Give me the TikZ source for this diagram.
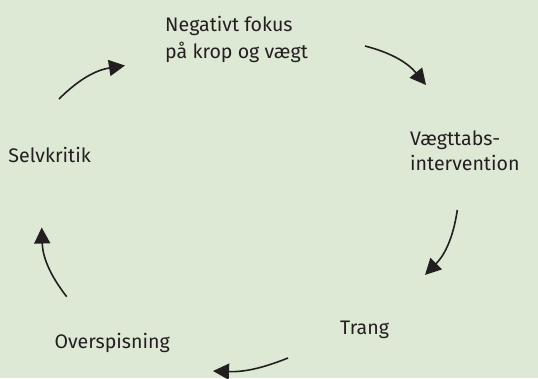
\documentclass[tikz,border=0pt]{standalone}
\usepackage{fontspec}
\setmainfont{Fira Sans}
\usetikzlibrary{arrows.meta}
\definecolor{bgcol}{RGB}{221,232,213}
\definecolor{ink}{RGB}{35,31,32}
\tikzset{
  lbl/.style={inner sep=0pt, anchor=base west, text=ink, font=\fontsize{19.6}{26.7}\selectfont},
  cyc/.style={draw=ink, line width=1.6pt, -{Triangle[length=16pt,width=16pt]}, bend left=#1},
  cyc/.default=18
}
\begin{document}
\begin{tikzpicture}[x=1pt,y=-1pt]
  \fill[bgcol] (0,0) rectangle (538,378);
  \useasboundingbox (0,0) rectangle (538,378);

  % stages of the cycle
  \node[lbl] (fokusA) at (165,31.7) {Negativt fokus};
  \node[lbl] (fokusB) at (165,58.3) {på krop og vægt};
  \node[lbl] (vaegtA) at (410,145.7) {Vægttabs-};
  \node[lbl] (vaegtB) at (410,170.7) {intervention};
  \node[lbl] (trang) at (340,334.3) {Trang};
  \node[lbl] (over) at (54.3,348.3) {Overspisning};
  \node[lbl] (selv) at (8.3,162.7) {Selvkritik};

  % arrow end points
  \coordinate (a1s) at (59,99);
  \coordinate (a1e) at (125,65.5);
  \coordinate (a2s) at (365,46);
  \coordinate (a2e) at (426,85);
  \coordinate (a3s) at (457.3,210);
  \coordinate (a3e) at (425,275);
  \coordinate (a4s) at (288,358);
  \coordinate (a4e) at (213,371);
  \coordinate (a5s) at (66.7,296.7);
  \coordinate (a5e) at (41.7,227.5);

  \draw[cyc] (a1s) to (a1e);
  \draw[cyc] (a2s) to (a2e);
  \draw[cyc] (a3s) to (a3e);
  \draw[cyc=12] (a4s) to (a4e);
  \draw[cyc] (a5s) to (a5e);
\end{tikzpicture}
\end{document}
